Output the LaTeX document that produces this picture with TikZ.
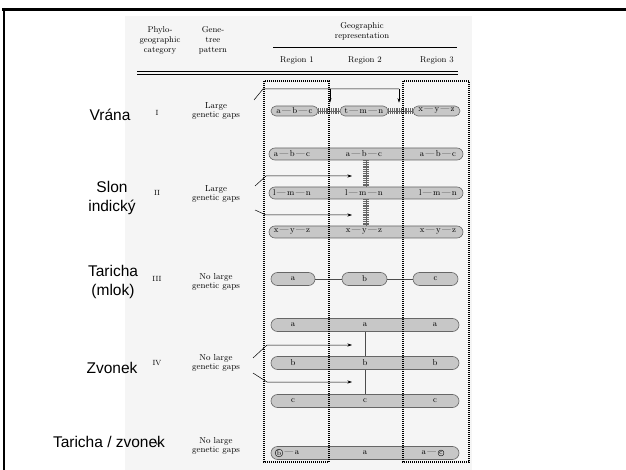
\documentclass[tikz,border=0pt]{standalone}
\usepackage{fontspec}
\newfontfamily\czfont{Liberation Sans}
\usetikzlibrary{arrows.meta,shapes.misc}

\begin{document}
\begin{tikzpicture}[x=1pt, y=-1pt,
	pill/.style={rounded rectangle, draw=black!60, fill=black!22, line width=0.6pt, inner sep=0pt, font=\fontsize{8.5}{9}\selectfont},
	pilltext/.style={inner sep=0pt, font=\fontsize{8.5}{9}\selectfont},
	ringtext/.style={circle, draw, line width=0.4pt, inner sep=0.4pt, font=\fontsize{7}{7}\selectfont},
	head/.style={align=center, inner sep=0pt, font=\fontsize{8.5}{10}\selectfont},
	gaptext/.style={align=center, inner sep=0pt, font=\fontsize{8.7}{9.7}\selectfont},
	numeral/.style={inner sep=0pt, font=\fontsize{7.5}{8}\selectfont},
	czlabel/.style={align=center, inner sep=0pt, font=\czfont\fontsize{15.5}{19}\selectfont},
	regionbox/.style={draw, line width=1.3pt, dash pattern=on 1pt off 1pt},
	gapline/.style={draw=black!60, line width=0.5pt, preaction={draw=black!60, line width=6pt, dash pattern=on 0.5pt off 1.3pt}},
	flowline/.style={line width=0.5pt},
	flowarrow/.style={line width=0.5pt, -{Stealth[length=4.5pt, width=3pt]}},
	]
	\useasboundingbox (0,0) rectangle (626,470);
	% scanned page and slide frame
	\fill[black!4] (125,16) rectangle (472,470);
	\draw[line width=3pt] (2,9.5) -- (626,9.5);
	\draw[line width=2pt] (4.3,8) -- (4.3,470);

	% table head
	\node[head] (hcat) at (160,40) {Phylo-\\geographic\\category};
	\node[head] (hgene) at (213,40) {Gene-\\tree\\pattern};
	\node[head] (hgeo) at (362,31) {Geographic\\representation};
	\draw[line width=0.6pt] (273,47) -- (457,47);
	\node[head] (hr1) at (297,60) {Region 1};
	\node[head] (hr2) at (365,60) {Region 2};
	\node[head] (hr3) at (437,60) {Region 3};
	\draw[line width=0.6pt] (137,71) -- (458,71);
	\draw[line width=0.6pt] (137,74.5) -- (458,74.5);

	% left labels
	\node[czlabel] (vrana) at (110,115) {Vrána};
	\node[czlabel] (slon) at (112,198) {Slon\\indický};
	\node[czlabel] (taricha) at (113,282) {Taricha\\(mlok)};
	\node[czlabel] (zvonek) at (112,368) {Zvonek};
	\node[numeral] (nI) at (157,113) {I};
	\node[numeral] (nII) at (157,193) {II};
	\node[numeral] (nIII) at (157,279) {III};
	\node[numeral] (nIV) at (157,363) {IV};
	\node[numeral] (nV) at (157,443) {V};
	\node[czlabel] (tarzvon) at (109,442) {Taricha / zvonek};
	\node[gaptext] (gapI) at (216,111) {Large\\genetic gaps};
	\node[gaptext] (gapII) at (216,194) {Large\\genetic gaps};
	\node[gaptext] (gapIII) at (216,282) {No large\\genetic gaps};
	\node[gaptext] (gapIV) at (216,363) {No large\\genetic gaps};
	\node[gaptext] (gapV) at (216,446) {No large\\genetic gaps};

	% category I
	\node[pill, minimum width=47pt, minimum height=10pt] (abcI) at (294.5,111) {a\,---\,b\,---\,c};
	\node[pill, minimum width=48pt, minimum height=10pt] (tmnI) at (364,111) {t\,---\,m\,---\,n};
	\node[pill, minimum width=47pt, minimum height=10pt] (xyzI) at (436.5,111) {x\,---\,y\,---\,z};
	\draw[gapline] (abcI.east) -- (tmnI.west);
	\draw[gapline] (tmnI.east) -- (xyzI.west);
	\coordinate (gI) at (254,100);
	\coordinate (kI) at (263,89);
	\coordinate (dI1) at (330,89);
	\coordinate (dI2) at (399,89);
	\draw[flowline] (gI) -- (kI) -- (dI2);
	\draw[flowarrow, shorten >=3pt] (dI1) -- (dI1 |- abcI.north);
	\draw[flowarrow, shorten >=3pt] (dI2) -- (dI2 |- xyzI.north);

	% category II
	\node[pill, minimum width=194pt, minimum height=12pt] (abcII) at (366,154) {};
	\node[pill, minimum width=194pt, minimum height=12pt] (lmnII) at (366,193) {};
	\node[pill, minimum width=194pt, minimum height=12pt] (xyzII) at (366,232) {};
	\foreach \px/\side in {292/l, 364/m, 438/r} {
		\node[pilltext] (abcII\side) at (\px,154) {a\,---\,b\,---\,c};
		\node[pilltext] (lmnII\side) at (\px,193) {l\,---\,m\,---\,n};
		\node[pilltext] (xyzII\side) at (\px,232) {x\,---\,y\,---\,z};
	}
	\draw[gapline] (abcII.south) -- (lmnII.north);
	\draw[gapline] (lmnII.south) -- (xyzII.north);
	\coordinate (gIIa) at (255,186);
	\coordinate (kIIa) at (266,176);
	\coordinate (tIIa) at (352,176);
	\coordinate (gIIb) at (255,210);
	\coordinate (kIIb) at (266,215);
	\coordinate (tIIb) at (352,215);
	\draw[flowarrow] (gIIa) -- (kIIa) -- (tIIa);
	\draw[flowarrow] (gIIb) -- (kIIb) -- (tIIb);

	% category III
	\node[pill, minimum width=44pt, minimum height=13pt] (aIII) at (293,279) {a};
	\node[pill, minimum width=45pt, minimum height=13pt] (bIII) at (364.5,279) {b};
	\node[pill, minimum width=45pt, minimum height=13pt] (cIII) at (435.5,279) {c};
	\draw[line width=0.6pt, black!70] (aIII.east) -- (bIII.west);
	\draw[line width=0.6pt, black!70] (bIII.east) -- (cIII.west);

	% category IV
	\node[pill, minimum width=188pt, minimum height=13pt] (aIV) at (365,325) {};
	\node[pill, minimum width=188pt, minimum height=13pt] (bIV) at (365,363) {};
	\node[pill, minimum width=188pt, minimum height=13pt] (cIV) at (365,401) {};
	\foreach \px/\side in {293/l, 365/m, 435/r} {
		\node[pilltext] (aIV\side) at (\px,325) {a};
		\node[pilltext] (bIV\side) at (\px,363) {b};
		\node[pilltext] (cIV\side) at (\px,401) {c};
	}
	\draw[line width=0.6pt, black!70] (aIV.south) -- (bIV.north);
	\draw[line width=0.6pt, black!70] (bIV.south) -- (cIV.north);
	\coordinate (gIVa) at (253,358);
	\coordinate (kIVa) at (267,345);
	\coordinate (tIVa) at (352,345);
	\coordinate (gIVb) at (253,373);
	\coordinate (kIVb) at (267,382);
	\coordinate (tIVb) at (352,382);
	\draw[flowarrow] (gIVa) -- (kIVa) -- (tIVa);
	\draw[flowarrow] (gIVb) -- (kIVb) -- (tIVb);

	% category V
	\node[pill, minimum width=188pt, minimum height=13pt] (aV) at (365,453) {};
	\node[ringtext] (bringV) at (279,453) {b};
	\node[pilltext, anchor=west] (aVl) at (bringV.east) {\,---\,a};
	\node[pilltext] (aVm) at (365,453) {a};
	\node[ringtext] (cringV) at (441,453) {c};
	\node[pilltext, anchor=east] (aVr) at (cringV.west) {a\,---\,};

	% regions 1 and 3
	\draw[regionbox] (264,81) rectangle (329,462);
	\draw[regionbox] (403,81) rectangle (469,462);
\end{tikzpicture}
\end{document}
